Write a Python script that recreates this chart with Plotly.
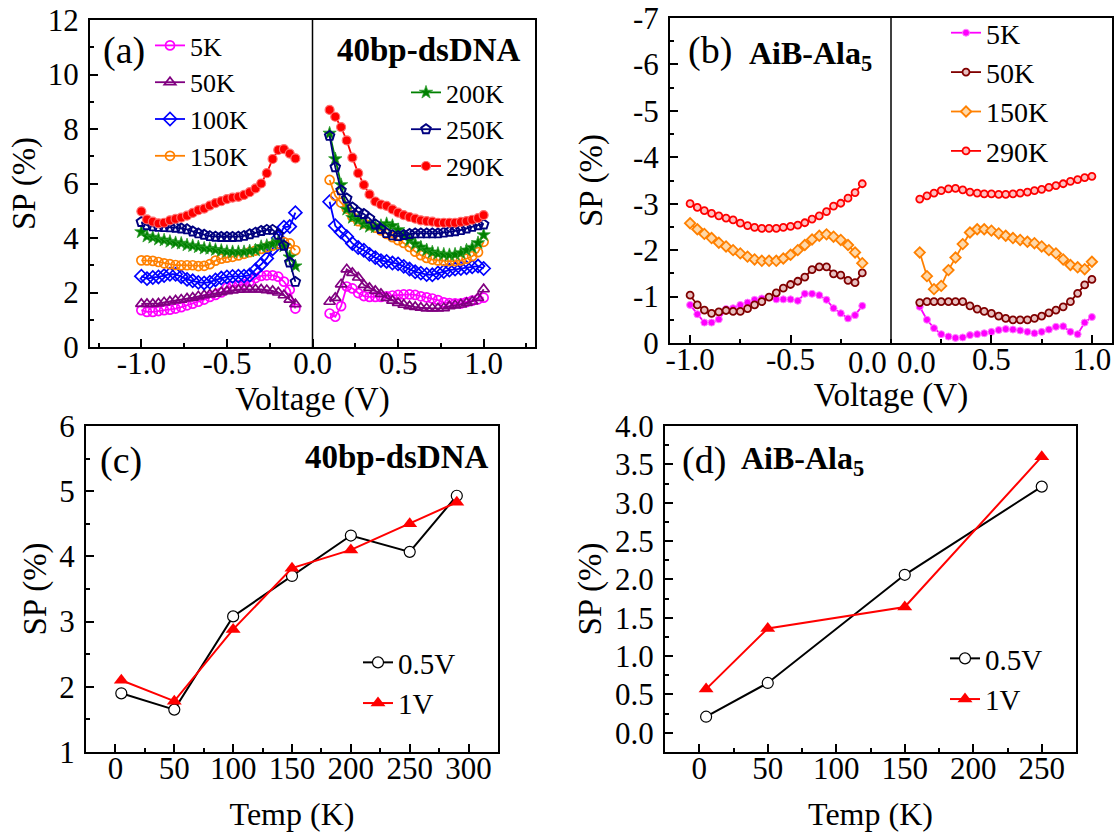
import plotly.graph_objects as go

W, H = 1120, 832
FONT = "Liberation Serif"

# ---------------- Panel (a): 40bp-dsDNA, SP vs voltage ----------------
va_neg = [-1.0, -0.967, -0.933, -0.9, -0.867, -0.833, -0.8, -0.767, -0.733, -0.7,
          -0.667, -0.633, -0.6, -0.567, -0.533, -0.5, -0.467, -0.433, -0.4, -0.367,
          -0.333, -0.3, -0.267, -0.233, -0.2, -0.167, -0.133, -0.1]
va_pos = [0.1, 0.133, 0.167, 0.2, 0.233, 0.267, 0.3, 0.333, 0.367, 0.4,
          0.433, 0.467, 0.5, 0.533, 0.567, 0.6, 0.633, 0.667, 0.7, 0.733,
          0.767, 0.8, 0.833, 0.867, 0.9, 0.933, 0.967, 1.0]

a_5K_neg = [1.35, 1.29, 1.29, 1.32, 1.35, 1.37, 1.41, 1.46, 1.53, 1.59, 1.66, 1.74, 1.84, 1.91,
            2.00, 2.18, 2.23, 2.26, 2.30, 2.40, 2.53, 2.61, 2.63, 2.63, 2.58, 2.40, 2.10, 1.41]
a_5K_pos = [1.23, 1.11, 1.50, 2.22, 2.15, 1.98, 1.87, 1.84, 1.84, 1.84, 1.86, 1.89, 1.91, 1.93,
            1.93, 1.91, 1.86, 1.82, 1.78, 1.72, 1.64, 1.61, 1.60, 1.60, 1.65, 1.70, 1.75, 1.81]
a_50K_neg = [1.58, 1.58, 1.58, 1.60, 1.64, 1.67, 1.71, 1.74, 1.78, 1.81, 1.86, 1.90, 1.93, 1.96,
             2.01, 2.05, 2.08, 2.10, 2.11, 2.11, 2.11, 2.11, 2.09, 2.06, 2.00, 1.90, 1.74, 1.57]
a_50K_pos = [1.66, 1.80, 2.30, 2.85, 2.72, 2.55, 2.28, 2.17, 2.06, 1.95, 1.80, 1.70, 1.62, 1.55,
             1.50, 1.47, 1.44, 1.42, 1.42, 1.42, 1.43, 1.50, 1.53, 1.56, 1.62, 1.67, 1.80, 2.12]
a_100K_neg = [2.60, 2.51, 2.55, 2.57, 2.62, 2.67, 2.67, 2.58, 2.48, 2.43, 2.37, 2.35, 2.38, 2.46,
              2.53, 2.57, 2.59, 2.60, 2.60, 2.64, 2.83, 3.03, 3.25, 3.60, 4.00, 4.40, 4.42, 4.93]
a_100K_pos = [5.33, 4.45, 4.22, 4.05, 3.80, 3.65, 3.55, 3.40, 3.28, 3.17, 3.14, 3.08, 3.05, 2.96,
              2.86, 2.76, 2.71, 2.66, 2.65, 2.72, 2.77, 2.82, 2.86, 2.88, 2.91, 2.94, 2.97, 2.88]
a_150K_neg = [3.18, 3.18, 3.16, 3.12, 3.07, 3.04, 3.01, 3.00, 3.00, 3.00, 2.97, 2.98, 3.04, 3.17,
              3.24, 3.28, 3.31, 3.36, 3.42, 3.48, 3.54, 3.60, 3.66, 3.72, 3.78, 3.85, 3.80, 3.55]
a_150K_pos = [6.13, 5.55, 5.30, 5.08, 4.78, 4.62, 4.54, 4.47, 4.38, 4.28, 4.15, 4.03, 3.92, 3.82,
              3.67, 3.50, 3.37, 3.27, 3.21, 3.18, 3.16, 3.15, 3.15, 3.18, 3.24, 3.33, 3.48, 3.86]
a_200K_neg = [4.22, 4.06, 4.02, 3.95, 3.92, 3.87, 3.82, 3.80, 3.74, 3.71, 3.67, 3.62, 3.61, 3.57,
              3.54, 3.50, 3.49, 3.49, 3.49, 3.52, 3.55, 3.68, 3.72, 3.78, 3.85, 3.70, 3.30, 2.97]
a_200K_pos = [7.84, 6.90, 5.95, 5.05, 4.75, 4.66, 4.50, 4.42, 4.40, 4.45, 4.52, 4.45, 4.30, 4.10,
              3.92, 3.78, 3.66, 3.56, 3.48, 3.43, 3.40, 3.38, 3.40, 3.45, 3.55, 3.65, 3.82, 4.11]
a_250K_neg = [4.59, 4.47, 4.43, 4.41, 4.40, 4.39, 4.38, 4.35, 4.32, 4.24, 4.17, 4.12, 4.07, 4.05,
              4.04, 4.04, 4.04, 4.05, 4.08, 4.14, 4.20, 4.26, 4.30, 4.30, 4.12, 3.72, 3.10, 2.39]
a_250K_pos = [7.75, 6.60, 5.75, 5.45, 5.12, 4.95, 4.88, 4.72, 4.50, 4.33, 4.18, 4.10, 4.07, 4.11,
              4.15, 4.17, 4.17, 4.17, 4.17, 4.17, 4.20, 4.23, 4.25, 4.29, 4.35, 4.41, 4.47, 4.50]
a_290K_neg = [4.98, 4.68, 4.60, 4.54, 4.56, 4.65, 4.70, 4.75, 4.82, 4.92, 5.02, 5.08, 5.19, 5.28,
              5.35, 5.43, 5.48, 5.51, 5.58, 5.68, 5.82, 6.00, 6.38, 6.90, 7.23, 7.26, 7.10, 6.92]
a_290K_pos = [8.70, 8.45, 8.07, 7.58, 6.95, 6.38, 5.95, 5.60, 5.34, 5.23, 5.18, 5.05, 4.93, 4.84,
              4.77, 4.71, 4.65, 4.62, 4.60, 4.56, 4.56, 4.56, 4.56, 4.59, 4.62, 4.67, 4.73, 4.84]

# ---------------- Panel (b): AiB-Ala5, SP vs voltage ----------------
vb_neg = [-1.0, -0.964, -0.929, -0.893, -0.857, -0.821, -0.786, -0.75, -0.714, -0.679,
          -0.643, -0.607, -0.571, -0.536, -0.5, -0.464, -0.429, -0.393, -0.357, -0.321,
          -0.286, -0.25, -0.214, -0.179, -0.143]
vb_pos = [0.143, 0.179, 0.214, 0.25, 0.286, 0.321, 0.357, 0.393, 0.429, 0.464,
          0.5, 0.536, 0.571, 0.607, 0.643, 0.679, 0.714, 0.75, 0.786, 0.821,
          0.857, 0.893, 0.929, 0.964, 1.0]

b_5K_neg = [-0.82, -0.62, -0.44, -0.44, -0.51, -0.73, -0.75, -0.82, -0.87, -0.93, -0.96, -0.98, -0.94,
            -0.94, -0.94, -0.91, -1.06, -1.06, -1.03, -0.93, -0.75, -0.64, -0.53, -0.60, -0.80]
b_5K_pos = [-0.78, -0.50, -0.32, -0.19, -0.14, -0.11, -0.12, -0.17, -0.19, -0.21, -0.24, -0.28, -0.30,
            -0.29, -0.27, -0.24, -0.21, -0.24, -0.29, -0.35, -0.36, -0.24, -0.19, -0.44, -0.56]
b_50K_neg = [-1.03, -0.82, -0.71, -0.64, -0.67, -0.70, -0.68, -0.68, -0.74, -0.82, -0.89, -0.99, -1.08,
             -1.18, -1.26, -1.33, -1.42, -1.58, -1.64, -1.64, -1.49, -1.46, -1.35, -1.30, -1.51]
b_50K_pos = [-0.87, -0.89, -0.89, -0.89, -0.89, -0.89, -0.89, -0.80, -0.73, -0.68, -0.64, -0.58, -0.53,
             -0.50, -0.50, -0.50, -0.53, -0.58, -0.65, -0.71, -0.78, -0.89, -1.07, -1.25, -1.37]
b_150K_neg = [-2.58, -2.45, -2.35, -2.26, -2.16, -2.08, -2.00, -1.93, -1.86, -1.80, -1.77, -1.77, -1.77,
              -1.82, -1.90, -2.00, -2.11, -2.23, -2.31, -2.34, -2.29, -2.22, -2.11, -1.95, -1.72]
b_150K_pos = [-1.95, -1.44, -1.16, -1.23, -1.57, -1.84, -2.13, -2.38, -2.45, -2.45, -2.42, -2.36, -2.31,
              -2.26, -2.22, -2.18, -2.15, -2.08, -2.00, -1.93, -1.80, -1.68, -1.63, -1.59, -1.75]
b_290K_neg = [-3.00, -2.92, -2.85, -2.79, -2.74, -2.69, -2.65, -2.58, -2.53, -2.49, -2.47, -2.47, -2.47,
              -2.49, -2.51, -2.54, -2.59, -2.67, -2.74, -2.83, -2.95, -3.01, -3.12, -3.24, -3.43]
b_290K_pos = [-3.10, -3.17, -3.23, -3.28, -3.32, -3.33, -3.30, -3.25, -3.23, -3.21, -3.21, -3.20, -3.20,
              -3.21, -3.23, -3.25, -3.28, -3.31, -3.35, -3.39, -3.43, -3.48, -3.52, -3.56, -3.59]

# ---------------- Panel (c): 40bp-dsDNA, SP vs temperature ----------------
temp_c = [5, 50, 100, 150, 200, 250, 290]
c_05V = [1.90, 1.65, 3.08, 3.70, 4.32, 4.07, 4.93]
c_1V = [2.10, 1.78, 2.88, 3.82, 4.10, 4.50, 4.83]

# ---------------- Panel (d): AiB-Ala5, SP vs temperature ----------------
temp_d = [5, 50, 150, 250]
d_05V = [0.21, 0.65, 2.06, 3.21]
d_1V = [0.57, 1.36, 1.64, 3.60]

# tick labels
volt_tickvals_a = [-1.0, -0.5, 0.0, 0.5, 1.0]
volt_ticktext_a = ["-1.0", "-0.5", "0.0", "0.5", "1.0"]
volt_tickvals_b = [-1.0, -0.5, 0.5, 1.0]
volt_ticktext_b = ["-1.0", "-0.5", "0.5", "1.0"]
b_yvals = [0, -1, -2, -3, -4, -5, -6, -7]
b_ytext = ["0", "-1", "-2", "-3", "-4", "-5", "-6", "-7"]


def dx(px):
    return px / W


def dy(py):
    return 1 - py / H


def join(a, b):
    return list(a) + [None] + list(b)


fig = go.Figure()

a_series = [
    ("5K", a_5K_neg, a_5K_pos, "#FF00FF", dict(symbol="circle-open", size=9, line=dict(width=1.7)), "legend"),
    ("50K", a_50K_neg, a_50K_pos, "#800080", dict(symbol="triangle-up-open", size=10, line=dict(width=1.7)), "legend"),
    ("100K", a_100K_neg, a_100K_pos, "#0000FF", dict(symbol="diamond-open", size=10, line=dict(width=1.7)), "legend"),
    ("150K", a_150K_neg, a_150K_pos, "#FF8000", dict(symbol="circle-open", size=9, line=dict(width=1.7)), "legend"),
    ("200K", a_200K_neg, a_200K_pos, "#008000", dict(symbol="star", size=10, line=dict(width=0.8, color="#30a030")), "legend2"),
    ("250K", a_250K_neg, a_250K_pos, "#000080", dict(symbol="pentagon-open", size=10, line=dict(width=1.9)), "legend2"),
    ("290K", a_290K_neg, a_290K_pos, "#FF0000", dict(symbol="circle", size=9, line=dict(width=1.2, color="#ff7070")), "legend2"),
]
for name, yn, yp, col, mk, lg in a_series:
    mk = dict(mk)
    mk.setdefault("color", col)
    fig.add_trace(go.Scatter(
        x=join(va_neg, va_pos), y=join(yn, yp), name=name, mode="lines+markers",
        line=dict(color=col, width=1.8), marker=mk, xaxis="x", yaxis="y", legend=lg))

b_series = [
    ("5K", b_5K_neg, b_5K_pos, "#FF00FF", dict(symbol="circle", size=7, color="#FF00FF", line=dict(width=1, color="#ff80ff"))),
    ("50K", b_50K_neg, b_50K_pos, "#800000", dict(symbol="circle", size=7, color="#e8c0c0", line=dict(width=1.8, color="#800000"))),
    ("150K", b_150K_neg, b_150K_pos, "#FF8000", dict(symbol="diamond", size=8, color="#ffd8a8", line=dict(width=1.8, color="#FF8000"))),
    ("290K", b_290K_neg, b_290K_pos, "#FF0000", dict(symbol="circle", size=7, color="#ffc0c0", line=dict(width=1.8, color="#FF0000"))),
]
for name, yn, yp, col, mk in b_series:
    fig.add_trace(go.Scatter(
        x=join(vb_neg, vb_pos), y=join(yn, yp), name=name, mode="lines+markers",
        line=dict(color=col, width=1.8), marker=mk, xaxis="x2", yaxis="y2", legend="legend3"))

for temps, v05, v1, xa, ya, lg in [(temp_c, c_05V, c_1V, "x3", "y3", "legend4"),
                                   (temp_d, d_05V, d_1V, "x4", "y4", "legend5")]:
    fig.add_trace(go.Scatter(
        x=temps, y=v05, name="0.5V", mode="lines+markers",
        line=dict(color="black", width=2),
        marker=dict(symbol="circle", size=11, color="white", line=dict(color="black", width=1.2)),
        xaxis=xa, yaxis=ya, legend=lg))
    fig.add_trace(go.Scatter(
        x=temps, y=v1, name="1V", mode="lines+markers",
        line=dict(color="#FF0000", width=2),
        marker=dict(symbol="triangle-up", size=13, color="#FF0000"),
        xaxis=xa, yaxis=ya, legend=lg))


def axis(domain, anchor, rng, title, standoff, labelstandoff, tsize=33, **kw):
    d = dict(domain=domain, anchor=anchor, range=rng, showline=True, linecolor="black",
             linewidth=2, mirror=True, ticks="inside", ticklen=8, tickwidth=2,
             tickcolor="black", showgrid=False, zeroline=False, automargin=False,
             ticklabelstandoff=labelstandoff,
             tickfont=dict(family=FONT, size=31, color="black"),
             title=dict(text=title, standoff=standoff,
                        font=dict(family=FONT, size=tsize, color="black")))
    d.update(kw)
    return d


def minor(step):
    return dict(ticks="inside", ticklen=4, tickwidth=2, tickcolor="black", dtick=step,
                tick0=0, showgrid=False)


layout = dict(
    template="none",
    width=W, height=H, margin=dict(l=0, r=0, t=0, b=0, autoexpand=False),
    paper_bgcolor="white", plot_bgcolor="white",
    font=dict(family=FONT, color="black"),
    xaxis=axis([dx(90), dx(535)], "y", [-1.3, 1.3], "Voltage (V)", 2, -12,
               tickvals=volt_tickvals_a, ticktext=volt_ticktext_a, minor=minor(0.25)),
    yaxis=axis([dy(347), dy(20)], "x", [0, 12], "SP (%)", 2, 3, dtick=2, minor=minor(1)),
    xaxis2=axis([dx(670), dx(1112)], "y2", [-1.1, 1.1], "Voltage (V)", 3, -12,
                tickvals=volt_tickvals_b, ticktext=volt_ticktext_b, minor=minor(0.25)),
    yaxis2=axis([dy(343), dy(18)], "x2", [0, -7], "SP (%)", 20, 3,
                tickvals=b_yvals, ticktext=b_ytext, minor=minor(0.5)),
    xaxis3=axis([dx(86), dx(498)], "y3", [-25, 325], "Temp (K)", 20, -12, 32, dtick=50, minor=minor(25)),
    yaxis3=axis([dy(752), dy(426)], "x3", [1, 6], "SP (%)", 3, 3, dtick=1, minor=minor(0.5)),
    xaxis4=axis([dx(665), dx(1076)], "y4", [-25, 275], "Temp (K)", 20, -12, 32, dtick=50, minor=minor(25)),
    yaxis4=axis([dy(752), dy(426)], "x4", [-0.25, 4.0], "SP (%)", 3, 3, dtick=0.5,
                tickformat=".1f", minor=minor(0.25)),
)

leg_common = dict(xref="paper", yref="paper", xanchor="left", yanchor="top",
                  bgcolor="rgba(0,0,0,0)", borderwidth=0, itemwidth=30,
                  tracegroupgap=0)
layout["legend"] = dict(leg_common, x=dx(150), y=dy(22), font=dict(family=FONT, size=26))
layout["legend2"] = dict(leg_common, x=dx(406), y=dy(69), font=dict(family=FONT, size=26))
layout["legend3"] = dict(leg_common, x=dx(946), y=dy(8), font=dict(family=FONT, size=28))
layout["legend4"] = dict(leg_common, x=dx(358), y=dy(637), font=dict(family=FONT, size=29))
layout["legend5"] = dict(leg_common, x=dx(945), y=dy(633), font=dict(family=FONT, size=29))

fig.update_layout(**layout)

# divider lines at V = 0
for xr, yr in [("x", "y domain"), ("x2", "y2 domain")]:
    fig.add_shape(type="line", xref=xr, yref=yr, x0=0, x1=0, y0=0, y1=1,
                  line=dict(color="black", width=1.5))

ann = [
    ("(a)", 124, 50, 38, "center"),
    ("<b>40bp-dsDNA</b>", 429, 50, 33, "center"),
    ("(b)", 710, 50, 38, "center"),
    ("<b>AiB-Ala<sub>5</sub></b>", 748, 55, 32, "left"),
    ("(c)", 121, 460, 38, "center"),
    ("<b>40bp-dsDNA</b>", 397, 457, 33, "center"),
    ("(d)", 704, 460, 38, "center"),
    ("<b>AiB-Ala<sub>5</sub></b>", 740, 460, 32, "left"),
    ("0.0", 867, 363, 31, "center"),
    ("0.0", 916, 363, 31, "center"),
]
for text, x, y, size, xa in ann:
    fig.add_annotation(text=text, x=dx(x), y=dy(y), xref="paper", yref="paper",
                       xanchor=xa, yanchor="middle", showarrow=False, borderpad=0,
                       font=dict(family=FONT, size=size, color="black"))

fig.write_html("out.html")
